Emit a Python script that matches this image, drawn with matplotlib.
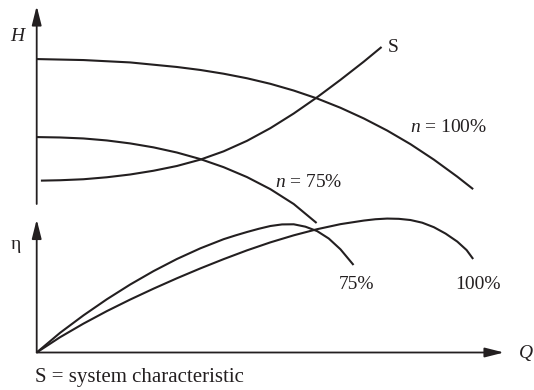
import matplotlib
matplotlib.use('Agg')
import matplotlib.pyplot as plt

plt.rcParams['font.family'] = ['Liberation Serif', 'DejaVu Serif']
plt.rcParams['mathtext.fontset'] = 'custom'
plt.rcParams['mathtext.it'] = 'Liberation Serif:italic'
plt.rcParams['mathtext.rm'] = 'Liberation Serif'

INK = '#231f20'

# ---- data (Q in % of axis length, H and eta in % of their axis heights) ----
q_h100 = [0, 10, 20, 30, 35, 40, 45, 50, 55, 60, 65, 70, 75, 80, 85, 90, 93.4]
h_100 = [73.2, 72.7, 71.5, 69.2, 67.7, 65.8, 63.5, 60.7, 57.3, 53.3, 48.6, 43.2,
         37.1, 30.2, 22.4, 13.8, 7.5]
q_h75 = [0, 5, 10, 15, 20, 25, 30, 35, 40, 45, 50, 55, 59.9]
h_75 = [33.8, 33.6, 33.1, 32.1, 30.6, 28.6, 26.0, 22.7, 18.6, 13.6, 7.5, 0.0, -9.6]
q_sys = [0.9, 5, 10, 15, 20, 25, 30, 35, 40, 45, 50, 55, 60, 65, 70, 73.8]
h_sys = [11.8, 12.0, 12.5, 13.5, 14.9, 16.8, 19.2, 22.4, 26.6, 31.9, 38.3, 45.7,
         53.9, 62.7, 71.9, 79.3]
q_e75 = [0, 5, 10, 15, 20, 25, 30, 35, 40, 42.5, 45, 47.5, 50, 52.5, 55, 57.5, 60,
         62.5, 65, 67.8]
eta_75 = [0, 14.8, 27.9, 40.0, 51.1, 61.2, 70.3, 78.3, 85.2, 88.0, 90.6, 93.0, 95.1,
          96.3, 96.4, 94.6, 91.3, 85.7, 77.6, 65.8]
q_e100 = [0, 5, 10, 15, 20, 25, 30, 35, 40, 45, 50, 55, 60, 65, 70, 72.5, 75, 77.5,
          80, 82.5, 85, 87.5, 90, 92, 93.4]
eta_100 = [0, 11.5, 21.7, 31.1, 39.8, 48.0, 55.8, 63.2, 70.2, 76.8, 82.8, 88.1, 92.7,
           96.5, 99.2, 100.2, 100.7, 100.5, 99.6, 97.6, 94.2, 89.4, 83.4, 77.0, 70.3]

W, HP = 534, 390
fig = plt.figure(figsize=(W / 100, HP / 100), dpi=100)
fig.patch.set_facecolor('white')

axH = fig.add_axes([36.7 / W, 1 - 204 / HP, 467.3 / W, 198 / HP])
axE = fig.add_axes([36.7 / W, 1 - 352.5 / HP, 467.3 / W, 133 / HP])
for ax in (axH, axE):
    ax.set_xlim(0, 100)
    ax.set_ylim(0, 100)
    ax.axis('off')
    ax.patch.set_alpha(0)

LW = 1.5
kw = dict(color=INK, lw=LW, clip_on=False, solid_capstyle='butt', solid_joinstyle='round')
axH.plot(q_h100, h_100, **kw)
axH.plot(q_h75, h_75, **kw)
axH.plot(q_sys, h_sys, **kw)
axE.plot(q_e75, eta_75, **kw)
axE.plot(q_e100, eta_100, **kw)

arrow = dict(arrowstyle='-|>,head_length=1.15,head_width=0.29', color=INK, lw=1.3,
             shrinkA=0, shrinkB=0)
axH.annotate('', xy=(0, 100), xytext=(0, 0), arrowprops=arrow, annotation_clip=False)
axE.annotate('', xy=(0, 100), xytext=(0, 0), arrowprops=arrow, annotation_clip=False)
axE.annotate('', xy=(100, 0), xytext=(0, 0), arrowprops=arrow, annotation_clip=False)

FS = 14
axH.text(-4.1, 82.5, 'H', style='italic', fontsize=FS, color=INK, ha='center', va='baseline')
axH.text(76.2, 76.8, 'S', fontsize=FS, color=INK, ha='center', va='baseline')
axH.text(79.9, 36.4, r'$n$ = 100%', fontsize=FS, color=INK, ha='left', va='baseline')
axH.text(51.0, 8.6, r'$n$ = 75%', fontsize=FS, color=INK, ha='left', va='baseline')
axE.text(-4.4, 77.6, 'η', fontsize=FS, color=INK, ha='center', va='baseline')
axE.text(68.5, 48.1, '75%', fontsize=FS, color=INK, ha='center', va='baseline')
axE.text(94.4, 48.1, '100%', fontsize=FS, color=INK, ha='center', va='baseline')
axE.text(104.8, -4.5, 'Q', style='italic', fontsize=FS, color=INK, ha='center', va='baseline')
fig.text(35 / W, 1 - 382.3 / HP, 'S = system characteristic', fontsize=15, color=INK,
         ha='left', va='baseline')

fig.savefig('out.png', dpi=100)
